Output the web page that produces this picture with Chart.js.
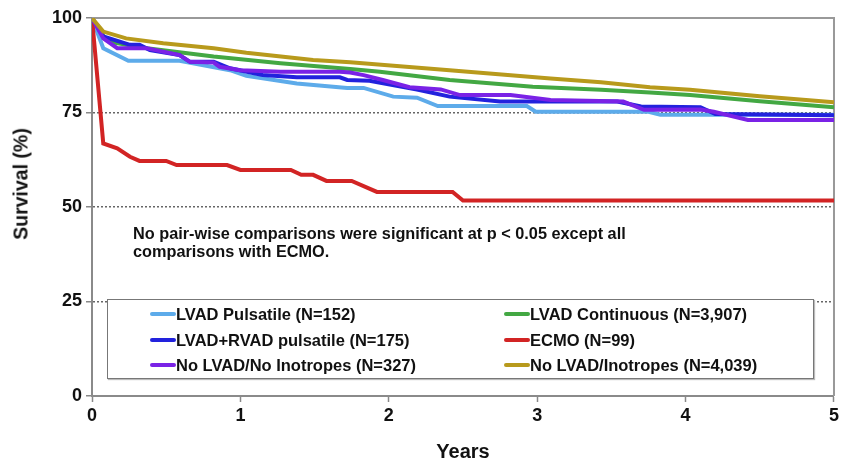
<!DOCTYPE html>
<html>
<head>
<meta charset="utf-8">
<script src="https://cdn.jsdelivr.net/npm/chart.js@4"></script>
<style>
  html, body { margin: 0; padding: 0; background: #fff; }
  #wrap { position: relative; width: 842px; height: 461px; font-family: 'Liberation Sans', Arial, sans-serif; }
  #myChart { position: absolute; left: 0; top: 0; }
  .note { position: absolute; left: 133px; top: 224px; font-weight: bold; font-size: 16.3px; line-height: 18px; color: #111; }
  .ytitle { position: absolute; left: 21px; top: 184px; transform: translate(-50%, -50%) rotate(-90deg); font-weight: bold; font-size: 19.5px; color: #111; white-space: nowrap; }
  #legend { position: absolute; left: 107px; top: 299px; width: 705px; height: 78px; border: 1px solid #777; background: #fff; box-shadow: 1px 1px 1px #bbb; }
  .item { position: absolute; height: 20px; font-weight: bold; font-size: 16.5px; line-height: 20px; color: #111; white-space: nowrap; }
  .item i { position: absolute; left: 0; top: 8px; width: 26px; height: 4px; border-radius: 2px; }
  .item span { position: absolute; left: 26px; top: 0; }
</style>
</head>
<body>
<div id="wrap">
  <canvas id="myChart" width="842" height="461"></canvas>
  <div class="ytitle">Survival (%)</div>
  <div class="note">No pair-wise comparisons were significant at p &lt; 0.05 except all<br>comparisons with ECMO.</div>
  <div id="legend"></div>
</div>
<script>
// series values: years and survival (%)
const pulsatileYears = [0, 0.076, 0.245, 0.59, 0.93, 1.04, 1.38, 1.72, 1.83, 2.03, 2.19, 2.33, 2.93, 2.99, 3.75, 3.83, 5.0];
const pulsatileSurv = [100, 92.0, 88.7, 88.7, 86.2, 84.7, 82.7, 81.5, 81.5, 79.2, 78.9, 76.7, 76.7, 75.2, 75.2, 74.4, 74.4];

const biventYears = [0, 0.076, 0.256, 0.32, 0.39, 0.59, 0.66, 0.82, 0.93, 1.15, 1.38, 1.67, 1.72, 1.87, 2.19, 2.41, 2.75, 3.54, 3.7, 4.1, 4.2, 5.0];
const biventSurv = [100, 95.1, 92.9, 92.9, 91.5, 90.2, 88.4, 88.4, 86.7, 84.9, 84.3, 84.3, 83.6, 83.4, 81.1, 79.2, 77.9, 77.9, 76.6, 76.4, 74.6, 74.3];

const noLvadNoInoYears = [0, 0.076, 0.17, 0.37, 0.59, 0.66, 0.82, 0.86, 1.0, 1.27, 1.67, 1.74, 1.83, 1.96, 2.14, 2.35, 2.48, 2.82, 3.09, 3.58, 3.72, 4.1, 4.19, 4.42, 5.0];
const noLvadNoInoSurv = [100, 94.6, 92.0, 92.0, 90.2, 88.4, 88.2, 87.1, 86.2, 85.8, 85.8, 85.6, 84.9, 83.6, 81.7, 81.1, 79.6, 79.6, 78.3, 77.9, 75.7, 75.8, 75.2, 73.0, 73.0];

const continuousYears = [0, 0.076, 0.12, 0.37, 0.82, 1.27, 1.74, 1.94, 2.41, 2.97, 3.43, 3.76, 4.03, 4.5, 5.0];
const continuousSurv = [100, 95.3, 93.7, 92.0, 89.8, 88.0, 86.5, 85.8, 83.6, 81.8, 81.0, 80.3, 79.6, 78.0, 76.4];

const ecmoYears = [0, 0.076, 0.17, 0.256, 0.32, 0.5, 0.57, 0.91, 1.0, 1.34, 1.41, 1.49, 1.58, 1.75, 1.92, 2.43, 2.5, 5.0];
const ecmoSurv = [100, 66.8, 65.5, 63.3, 62.2, 62.2, 61.1, 61.1, 59.8, 59.8, 58.5, 58.5, 56.9, 56.9, 54.0, 54.0, 51.7, 51.7];

const noLvadInoYears = [0, 0.076, 0.23, 0.48, 0.82, 1.04, 1.49, 1.74, 2.41, 3.09, 3.43, 3.76, 4.03, 4.5, 5.0];
const noLvadInoSurv = [100, 96.4, 94.6, 93.3, 92.0, 90.8, 88.9, 88.3, 86.2, 84.0, 83.0, 81.7, 81.0, 79.3, 77.7];

const seriesLabels = ['LVAD Pulsatile (N=152)', 'LVAD+RVAD pulsatile (N=175)', 'No LVAD/No Inotropes (N=327)',
                      'LVAD Continuous (N=3,907)', 'ECMO (N=99)', 'No LVAD/Inotropes (N=4,039)'];
const yTicks = [0, 25, 50, 75, 100];
const xTicks = [0, 1, 2, 3, 4, 5];

const colors = ['#5dabea', '#2222dd', '#7a22e6', '#43a843', '#d22424', '#b89a1c'];
const FONT = "'Liberation Sans', Arial, sans-serif";

function pts(xs, ys) {
    return xs.map(function (x, i) { return { x: x, y: ys[i] }; });
}

const seriesData = [
    pts(pulsatileYears, pulsatileSurv),
    pts(biventYears, biventSurv),
    pts(noLvadNoInoYears, noLvadNoInoSurv),
    pts(continuousYears, continuousSurv),
    pts(ecmoYears, ecmoSurv),
    pts(noLvadInoYears, noLvadInoSurv)
];

// draw order: pulsatile lowest, gold on top
const drawOrder = [6, 3, 2, 5, 4, 1];

const frame = {
    id: 'frame',
    beforeDatasetsDraw(chart) {
        const a = chart.chartArea, c = chart.ctx;
        c.save();
        c.strokeStyle = '#999';
        c.lineWidth = 2;
        c.beginPath();
        c.moveTo(a.left, a.top);
        c.lineTo(a.right, a.top);
        c.lineTo(a.right, a.bottom);
        c.stroke();
        c.restore();
    }
};

const ctx = document.getElementById('myChart');

const chart = new Chart(ctx, {
    type: 'line',
    data: {
        datasets: seriesLabels.map(function (lbl, i) {
            return {
                label: lbl,
                data: seriesData[i],
                borderColor: colors[i],
                backgroundColor: colors[i],
                borderWidth: 4,
                pointRadius: 0,
                tension: 0,
                fill: false,
                order: drawOrder[i]
            };
        })
    },
    options: {
        responsive: false,
        animation: false,
        events: [],
        layout: { padding: { top: 18, right: 8, left: 0, bottom: 0 } },
        plugins: {
            legend: { display: false },
            tooltip: { enabled: false }
        },
        scales: {
            x: {
                type: 'linear',
                min: 0,
                max: 5,
                afterBuildTicks: function (s) { s.ticks = xTicks.map(function (v) { return { value: v }; }); },
                afterFit: function (s) { s.height = 65; },
                ticks: {
                    font: { family: FONT, size: 18, weight: 'bold' },
                    color: '#111',
                    padding: 3,
                    maxRotation: 0
                },
                grid: { drawOnChartArea: false, drawTicks: true, tickLength: 6, tickColor: '#888', tickWidth: 1.5 },
                border: { color: '#8a8a8a', width: 2 },
                title: {
                    display: true,
                    text: 'Years',
                    font: { family: FONT, size: 20, weight: 'bold' },
                    color: '#111',
                    padding: { top: 0, bottom: -3 }
                }
            },
            y: {
                min: 0,
                max: 100,
                afterBuildTicks: function (s) { s.ticks = yTicks.map(function (v) { return { value: v }; }); },
                afterFit: function (s) { s.width = 92; },
                ticks: {
                    font: { family: FONT, size: 18, weight: 'bold' },
                    color: '#111',
                    padding: 4
                },
                grid: {
                    color: function (c) {
                        const v = c.tick ? c.tick.value : null;
                        return (v === 0 || v === 100) ? 'rgba(0,0,0,0)' : '#666';
                    },
                    lineWidth: 1.5,
                    borderDash: [2, 2],
                    tickLength: 6,
                    tickColor: '#888',
                    tickWidth: 1.5,
                    tickBorderDash: []
                },
                border: { color: '#8a8a8a', width: 2, dash: [2, 2] }
            }
        }
    },
    plugins: [frame]
});

// legend box, two columns, built from the chart datasets
const legendEl = document.getElementById('legend');
chart.data.datasets.forEach(function (ds, i) {
    const col = Math.floor(i / 3), row = i % 3;
    const item = document.createElement('div');
    item.className = 'item';
    item.style.left = (col === 0 ? 42 : 396) + 'px';
    item.style.top = (4 + row * 25.5) + 'px';
    const sw = document.createElement('i');
    sw.style.background = ds.borderColor;
    const tx = document.createElement('span');
    tx.textContent = ds.label;
    item.appendChild(sw);
    item.appendChild(tx);
    legendEl.appendChild(item);
});
</script>
</body>
</html>
